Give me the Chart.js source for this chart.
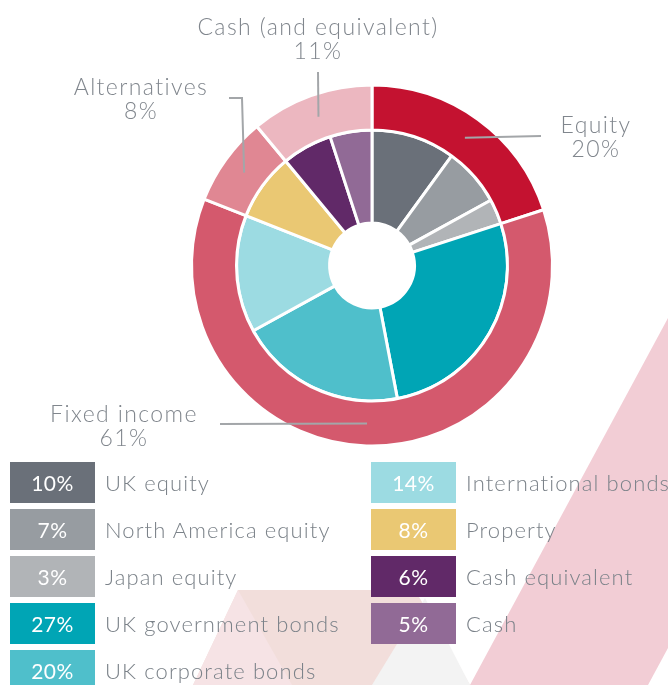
<!DOCTYPE html>
<html>
<head>
<meta charset="utf-8">
<script src="https://cdn.jsdelivr.net/npm/chart.js@4.4.1/dist/chart.umd.min.js"></script>
<style>
  html, body { margin: 0; padding: 0; background: #fff; }
  body { width: 668px; height: 685px; overflow: hidden; position: relative; font-family: Lato, sans-serif; font-weight: 300; }
  #bg { position: absolute; left: 0; top: 0; z-index: 0; }
  #wrap { position: absolute; left: 0; top: 0; width: 668px; height: 685px; z-index: 1; }
  #legend { position: absolute; left: 0; top: 462px; width: 668px; z-index: 2; }
  .col { position: absolute; top: 0; }
  .item { display: flex; align-items: center; height: 41px; margin-bottom: 6px; }
  .box { width: 85px; height: 41px; color: #fff; font-size: 21px; font-weight: 400; letter-spacing: 0.5px; display: flex; align-items: center; justify-content: center; }
  .txt { margin-left: 10px; font-size: 22px; letter-spacing: 1.1px; color: #7b8289; white-space: nowrap; }
</style>
</head>
<body>
<svg id="bg" width="668" height="685">
  <polygon points="238,590 415,590 470,685 193,685" fill="#f2dedb"/>
  <polygon points="238,590 193,685 292,685" fill="#f6e3e5"/>
  <polygon points="425,598 372,685 470,685" fill="#f3f3f3"/>
  <polygon points="668,318 470,685 648,685 668,648" fill="#f2cdd5"/>
</svg>
<div id="wrap"><canvas id="AllocChart"></canvas></div>
<div id="legend"></div>
<script>
// asset classes (outer ring)
const classNames = ['Equity', 'Fixed income', 'Alternatives', 'Cash (and equivalent)'];
const classValues = [20, 61, 8, 11];
const classColors = ['#c41230', '#d4596d', '#e08793', '#ecb7c0'];

// holdings (inner ring)
const holdingNames = ['UK equity', 'North America equity', 'Japan equity', 'UK government bonds',
  'UK corporate bonds', 'International bonds', 'Property', 'Cash equivalent', 'Cash'];
const holdingValues = [10, 7, 3, 27, 20, 14, 8, 6, 5];
const holdingColors = ['#6a7079', '#979ca1', '#b1b4b7', '#00a5b5', '#4fbfcb', '#9cdbe2', '#eac873', '#612968', '#916a96'];

// label placement for the outer ring callouts
const calloutText = [[596, 133], [124, 422], [141, 95], [318, 35]];
const calloutPath = [
  [[541, 136]],
  [[220, 424]],
  [[242, 98], [229, 98]],
  [[318, 72]]
];

const callouts = {
  id: 'callouts',
  afterDatasetsDraw(chart) {
    const c = chart.ctx;
    const arcs = chart.getDatasetMeta(0).data;
    c.save();
    c.strokeStyle = '#a3a6a9';
    c.lineWidth = 2;
    arcs.forEach((arc, i) => {
      const p = arc.tooltipPosition();
      c.beginPath();
      c.moveTo(p.x, p.y);
      calloutPath[i].forEach(pt => c.lineTo(pt[0], pt[1]));
      c.stroke();
    });
    c.fillStyle = '#80868d';
    c.font = '300 23px Lato';
    c.letterSpacing = '1.4px';
    c.textAlign = 'center';
    c.textBaseline = 'alphabetic';
    classNames.forEach((name, i) => {
      const [x, y] = calloutText[i];
      c.fillText(name, x, y);
      c.fillText(classValues[i] + '%', x, y + 24);
    });
    c.restore();
  }
};

const ctx = document.getElementById('AllocChart').getContext('2d');

const data = {
  labels: holdingNames,
  datasets: [
    {
      label: 'Asset class',
      data: classValues,
      backgroundColor: classColors,
      borderColor: '#fff',
      borderWidth: 3,
      weight: 1
    },
    {
      label: 'Holding',
      data: holdingValues,
      backgroundColor: holdingColors,
      borderColor: '#fff',
      borderWidth: 3,
      weight: 2.07
    }
  ]
};

const config = {
  type: 'doughnut',
  data: data,
  options: {
    responsive: false,
    animation: false,
    cutout: '23.5%',
    layout: {
      padding: { left: 190, top: 83.5, right: 114, bottom: 237.5 }
    },
    plugins: {
      legend: { display: false },
      tooltip: { enabled: false }
    }
  },
  plugins: [callouts]
};

const cv = document.getElementById('AllocChart');
cv.width = 668;
cv.height = 685;
const allocChart = new Chart(ctx, config);

// legend boxes, two columns
const legend = document.getElementById('legend');
const cols = [{ left: 10, from: 0, to: 5 }, { left: 371, from: 5, to: 9 }];
cols.forEach(col => {
  const div = document.createElement('div');
  div.className = 'col';
  div.style.left = col.left + 'px';
  for (let i = col.from; i < col.to; i++) {
    const item = document.createElement('div');
    item.className = 'item';
    item.innerHTML = '<div class="box" style="background:' + holdingColors[i] + '">' +
      holdingValues[i] + '%</div><div class="txt">' + holdingNames[i] + '</div>';
    div.appendChild(item);
  }
  legend.appendChild(div);
});
</script>
</body>
</html>
